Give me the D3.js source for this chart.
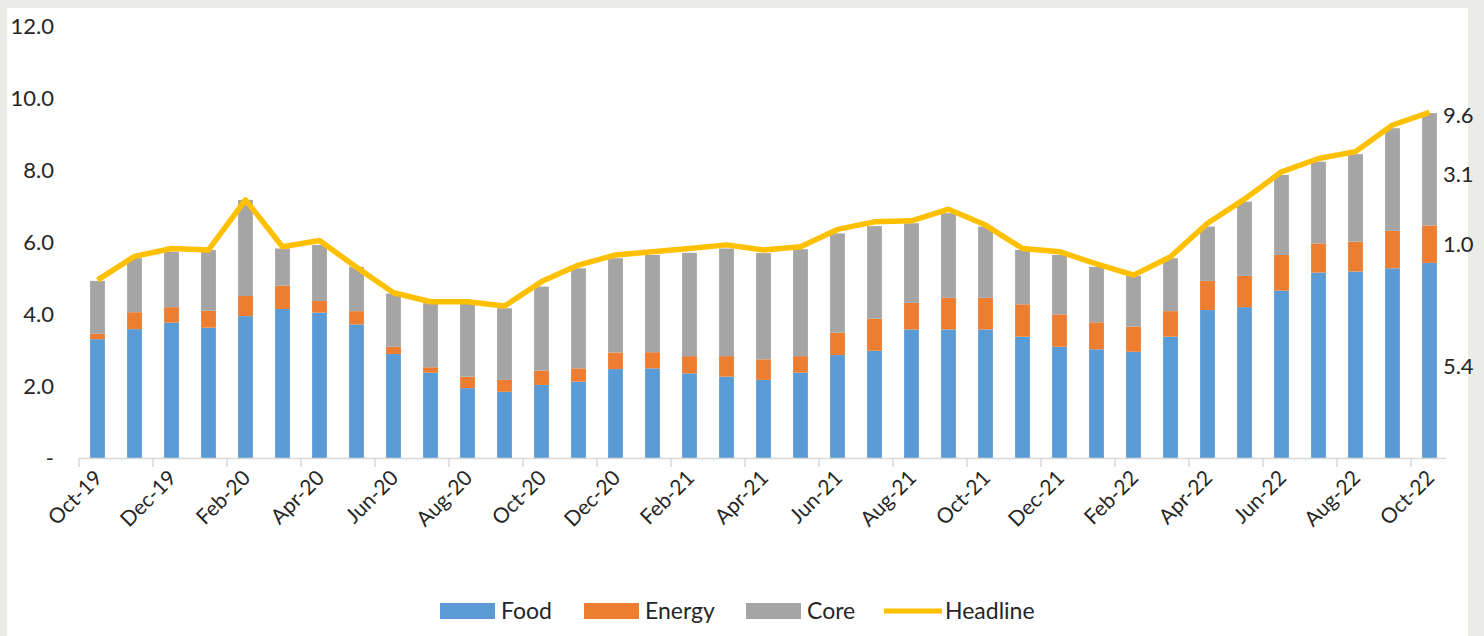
<!DOCTYPE html>
<html>
<head>
<meta charset="utf-8">
<script src="https://cdn.jsdelivr.net/npm/d3@7"></script>
<style>
  body { margin: 0; background: #ebebe7; }
  text { font-family: Lato, "Liberation Sans", sans-serif; fill: #262626; }
</style>
</head>
<body>
<div id="vis"></div>
<script>
//Data (percent contributions)
var months = ["Oct-19","Nov-19","Dec-19","Jan-20","Feb-20","Mar-20","Apr-20","May-20","Jun-20","Jul-20","Aug-20","Sep-20",
              "Oct-20","Nov-20","Dec-20","Jan-21","Feb-21","Mar-21","Apr-21","May-21","Jun-21","Jul-21","Aug-21","Sep-21",
              "Oct-21","Nov-21","Dec-21","Jan-22","Feb-22","Mar-22","Apr-22","May-22","Jun-22","Jul-22","Aug-22","Sep-22","Oct-22"];

var food = [3.30, 3.58, 3.76, 3.62, 3.94, 4.14, 4.04, 3.71, 2.89, 2.37, 1.94, 1.84,
            2.03, 2.12, 2.47, 2.49, 2.35, 2.26, 2.17, 2.37, 2.86, 2.98, 3.57, 3.57,
            3.57, 3.37, 3.09, 3.02, 2.95, 3.37, 4.11, 4.19, 4.65, 5.15, 5.18, 5.27, 5.42];

var energy = [0.15, 0.47, 0.43, 0.47, 0.56, 0.65, 0.32, 0.37, 0.20, 0.15, 0.32, 0.33,
              0.40, 0.37, 0.46, 0.45, 0.48, 0.57, 0.57, 0.46, 0.62, 0.89, 0.74, 0.88,
              0.88, 0.90, 0.90, 0.75, 0.70, 0.71, 0.81, 0.87, 0.99, 0.81, 0.83, 1.04, 1.04];

var core = [1.47, 1.50, 1.54, 1.69, 2.67, 1.03, 1.56, 1.23, 1.48, 1.78, 2.04, 1.99,
            2.33, 2.78, 2.62, 2.70, 2.87, 2.99, 2.95, 2.97, 2.76, 2.57, 2.21, 2.35,
            1.98, 1.51, 1.65, 1.54, 1.41, 1.47, 1.51, 2.06, 2.22, 2.27, 2.43, 2.85, 3.12];

var headline = [4.94, 5.60, 5.82, 5.78, 7.17, 5.87, 6.04, 5.30, 4.59, 4.34, 4.34, 4.22,
                4.90, 5.36, 5.64, 5.73, 5.82, 5.92, 5.78, 5.87, 6.35, 6.56, 6.59, 6.91,
                6.47, 5.82, 5.73, 5.39, 5.08, 5.59, 6.52, 7.19, 7.95, 8.32, 8.51, 9.25, 9.60];

var yTicks = [0, 2, 4, 6, 8, 10, 12];
var seriesNames = ["Food", "Energy", "Core"];
var colors = {Food: "#5b9bd5", Energy: "#ed7d31", Core: "#a5a5a5", Headline: "#ffc000"};

var width = 1484, height = 636;

var svgCanvas = d3.select("#vis").append("svg")
                  .attr("width", width)
                  .attr("height", height);

//White slide area
svgCanvas.append("rect")
         .attr("x", 7).attr("y", 8)
         .attr("width", 1461).attr("height", 628)
         .attr("fill", "#ffffff");

//Scales
var x = d3.scaleBand().domain(months).range([79, 1448]).paddingInner(0.6).paddingOuter(0.3);
var y = d3.scaleLinear().domain([0, 12]).range([458, 26]);

//Stack the three components
var table = months.map(function(m, i) { return {month: m, Food: food[i], Energy: energy[i], Core: core[i]}; });
var stacked = d3.stack().keys(seriesNames)(table);

svgCanvas.selectAll(".series")
         .data(stacked)
         .enter().append("g")
         .attr("class", "series")
         .attr("fill", function(d) { return colors[d.key]; })
         .selectAll("rect")
         .data(function(d) { return d; })
         .enter().append("rect")
         .attr("x", function(d) { return x(d.data.month); })
         .attr("y", function(d) { return y(d[1]); })
         .attr("width", x.bandwidth())
         .attr("height", function(d) { return y(d[0]) - y(d[1]); });

//Headline line
var line = d3.line()
             .x(function(d, i) { return x(months[i]) + x.bandwidth() / 2; })
             .y(function(d) { return y(d); });

svgCanvas.append("path")
         .datum(headline)
         .attr("d", line)
         .attr("fill", "none")
         .attr("stroke", colors.Headline)
         .attr("stroke-width", 5.5)
         .attr("stroke-linejoin", "round");

//Y axis (labels only)
var yAxis = svgCanvas.append("g")
                     .attr("transform", "translate(58,0)")
                     .call(d3.axisLeft(y).tickValues(yTicks).tickSize(0).tickPadding(4)
                             .tickFormat(function(d) { return d === 0 ? "-" : d3.format(".1f")(d); }));
yAxis.select(".domain").remove();
yAxis.selectAll("text").style("font-size", "22px").style("font-family", "Lato, sans-serif").attr("fill", "#262626");

//X axis line
svgCanvas.append("line")
         .attr("x1", 79).attr("x2", 1446)
         .attr("y1", 458.5).attr("y2", 458.5)
         .attr("stroke", "#d9d9d9").attr("stroke-width", 1.5);

//Tick marks at band boundaries, every second month
var gap = (x.step() - x.bandwidth()) / 2;
var labelMonths = months.filter(function(m, i) { return i % 2 === 0; });
svgCanvas.selectAll(".xtick")
         .data(labelMonths)
         .enter().append("line")
         .attr("class", "xtick")
         .attr("x1", function(d) { return x(d) - gap; })
         .attr("x2", function(d) { return x(d) - gap; })
         .attr("y1", 458).attr("y2", 467)
         .attr("stroke", "#d9d9d9").attr("stroke-width", 1.5);

//Rotated month labels
svgCanvas.selectAll(".xlabel")
         .data(labelMonths)
         .enter().append("text")
         .attr("class", "xlabel")
         .attr("transform", function(d) { return "translate(" + (x(d) + x.bandwidth() / 2 + 1) + ",474) rotate(-45)"; })
         .attr("text-anchor", "end")
         .attr("dy", "0.35em")
         .style("font-size", "21px")
         .text(function(d) { return d; });

//Values for the latest month on the right
var last = table[table.length - 1];
var lastX = x(last.month) + x.bandwidth() + 6;
var endLabels = [
  {v: last.Food, y: last.Food / 2 - 0.16},
  {v: last.Energy, y: last.Food + last.Energy / 2},
  {v: last.Core, y: last.Food + last.Energy + last.Core / 2 - 0.15},
  {v: headline[headline.length - 1], y: headline[headline.length - 1] - 0.07}
];
svgCanvas.selectAll(".endlabel")
         .data(endLabels)
         .enter().append("text")
         .attr("class", "endlabel")
         .attr("x", lastX)
         .attr("y", function(d) { return y(d.y); })
         .attr("dy", "0.35em")
         .style("font-size", "22px")
         .text(function(d) { return d3.format(".1f")(d.v); });

//Legend
var legendItems = [
  {name: "Food", x: 440},
  {name: "Energy", x: 584},
  {name: "Core", x: 746},
  {name: "Headline", x: 884}
];
var legend = svgCanvas.selectAll(".legend")
                      .data(legendItems)
                      .enter().append("g")
                      .attr("class", "legend")
                      .attr("transform", function(d) { return "translate(" + d.x + ",611)"; });

legend.filter(function(d) { return d.name !== "Headline"; })
      .append("rect")
      .attr("x", 0).attr("y", -8)
      .attr("width", 55).attr("height", 16)
      .attr("fill", function(d) { return colors[d.name]; });

legend.filter(function(d) { return d.name === "Headline"; })
      .append("line")
      .attr("x1", 0).attr("x2", 58)
      .attr("y1", 0).attr("y2", 0)
      .attr("stroke", colors.Headline)
      .attr("stroke-width", 5);

legend.append("text")
      .attr("x", 61)
      .attr("dy", "0.35em")
      .style("font-size", "23px")
      .text(function(d) { return d.name; });
</script>
</body>
</html>
